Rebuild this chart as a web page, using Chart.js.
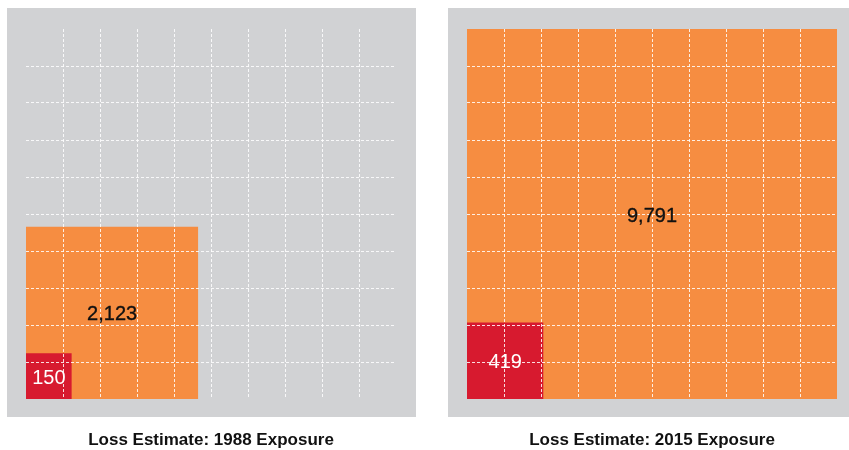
<!DOCTYPE html>
<html>
<head>
<meta charset="utf-8">
<script src="https://cdn.jsdelivr.net/npm/chart.js@4/dist/chart.umd.min.js"></script>
<style>
  html, body { margin: 0; padding: 0; background: #ffffff; }
  body { width: 849px; height: 450px; position: relative; overflow: hidden; }
  canvas { position: absolute; top: 0; }
  #c1 { left: 0; }
  #c2 { left: 424px; }
</style>
</head>
<body>
<canvas id="c1" width="424" height="451"></canvas>
<canvas id="c2" width="425" height="451"></canvas>
<script>
// ---- data ----
const panelTitles = ['Loss Estimate: 1988 Exposure', 'Loss Estimate: 2015 Exposure'];
const totalLoss = [2123, 9791];   // orange squares
const partLoss = [150, 419];      // red squares
const gridDivisions = 10;

// ---- styles ----
const GREY = '#d1d2d4';
const ORANGE = '#f68d41';
const RED = '#d71a2f';
const FONT = '"Liberation Sans", Arial, Helvetica, sans-serif';

const maxValue = Math.max(...totalLoss);
function side(v) { return gridDivisions * Math.sqrt(v / maxValue); }

const bgPlugin = {
  id: 'panelBg',
  beforeDraw(chart) {
    const ca = chart.chartArea, ctx = chart.ctx;
    ctx.save();
    ctx.fillStyle = GREY;
    ctx.fillRect(ca.left - 19, ca.top - 21, (ca.right - ca.left) + 39, (ca.bottom - ca.top) + 39);
    ctx.restore();
  }
};

const labelPlugin = {
  id: 'squareLabels',
  afterDraw(chart) {
    const ctx = chart.ctx, xs = chart.scales.x, ys = chart.scales.y;
    ctx.save();
    ctx.font = '20px ' + FONT;
    ctx.textAlign = 'center';
    ctx.textBaseline = 'middle';
    ctx.lineJoin = 'round';
    chart.data.datasets.forEach(ds => {
      const s = ds.data[1].x;
      const cx = xs.getPixelForValue(s / 2);
      const cy = ys.getPixelForValue(s / 2) + 2;
      const txt = ds.value.toLocaleString('en-US');
      ctx.fillStyle = ds.labelColor;
      ctx.fillText(txt, cx, cy);
      if (ds.labelStroke) {
        ctx.strokeStyle = ds.labelColor;
        ctx.lineWidth = ds.labelStroke;
        ctx.strokeText(txt, cx, cy);
      }
    });
    ctx.restore();
  }
};

function makeChart(id, i, padLeft, padRight) {
  const sT = side(totalLoss[i]);
  const sP = side(partLoss[i]);
  return new Chart(document.getElementById(id), {
    type: 'scatter',
    data: {
      datasets: [
        {
          value: partLoss[i], labelColor: '#ffffff', labelStroke: 0,
          data: [{x: 0, y: sP}, {x: sP, y: sP}],
          showLine: true, fill: 'origin', backgroundColor: RED,
          borderWidth: 0, borderColor: RED, pointRadius: 0, order: 0
        },
        {
          value: totalLoss[i], labelColor: '#111111', labelStroke: 0.35,
          data: [{x: 0, y: sT}, {x: sT, y: sT}],
          showLine: true, fill: 'origin', backgroundColor: ORANGE,
          borderWidth: 0, borderColor: ORANGE, pointRadius: 0, order: 1
        }
      ]
    },
    options: {
      responsive: false,
      animation: false,
      layout: { padding: { left: padLeft, right: padRight, top: 29, bottom: 0 } },
      plugins: {
        legend: { display: false },
        tooltip: { enabled: false },
        title: {
          display: true, position: 'bottom', text: panelTitles[i],
          color: '#111111', font: { family: FONT, size: 17, weight: 'bold', lineHeight: 1.2 },
          padding: { top: 31.6, bottom: 0 }
        }
      },
      scales: {
        x: {
          type: 'linear', min: 0, max: gridDivisions,
          ticks: { display: false, stepSize: 1 },
          grid: {
            z: 1, drawTicks: false, lineWidth: 1,
            color: c => (c.tick && (c.tick.value === 0 || c.tick.value === gridDivisions)) ? 'rgba(0,0,0,0)' : 'rgba(255,255,255,0.85)'
          },
          border: { display: false, dash: [3, 2] }
        },
        y: {
          type: 'linear', min: 0, max: gridDivisions,
          ticks: { display: false, stepSize: 1 },
          grid: {
            z: 1, drawTicks: false, lineWidth: 1,
            color: c => (c.tick && (c.tick.value === 0 || c.tick.value === gridDivisions)) ? 'rgba(0,0,0,0)' : 'rgba(255,255,255,0.85)'
          },
          border: { display: false, dash: [3, 2] }
        }
      }
    },
    plugins: [bgPlugin, labelPlugin]
  });
}

makeChart('c1', 0, 26, 28);
makeChart('c2', 1, 43, 12);
</script>
</body>
</html>
